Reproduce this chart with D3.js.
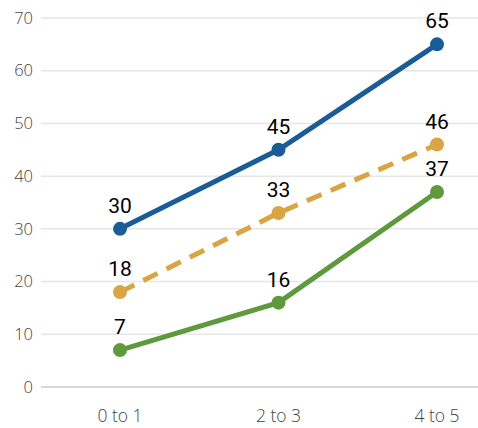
<!DOCTYPE html>
<html><head><meta charset="utf-8">
<script src="https://cdn.jsdelivr.net/npm/d3@7"></script>
<style>body{margin:0;background:#fff;} text{font-family:"Open Sans",sans-serif;}</style>
</head><body>
<svg id="c" width="478" height="428"></svg>
<script>
const categories = ["0 to 1", "2 to 3", "4 to 5"];
const blueValues = [30, 45, 65];
const orangeValues = [18, 33, 46];
const greenValues = [7, 16, 37];
const yTicks = [0, 10, 20, 30, 40, 50, 60, 70];

const series = [
  {values: blueValues, color: "#1a5c97", dash: null},
  {values: orangeValues, color: "#d9a443", dash: "16,10"},
  {values: greenValues, color: "#5e9a3b", dash: null}
];

const svg = d3.select("#c");
const x = d3.scalePoint().domain(categories).range([120, 437]);
const y = d3.scaleLinear().domain([0, 70]).range([387, 18]);

svg.append("g").selectAll("line").data(yTicks).join("line")
  .attr("x1", 41).attr("x2", 478)
  .attr("y1", d => y(d)).attr("y2", d => y(d))
  .attr("stroke", d => d === 0 ? "#c8c8c8" : "#e6e6e6").attr("stroke-width", 1.5);

svg.append("g").selectAll("text").data(yTicks).join("text")
  .attr("x", 33).attr("y", d => y(d)).attr("dy", "0.35em")
  .attr("text-anchor", "end").attr("font-size", 16.5).attr("font-weight", 300).attr("fill", "#444")
  .text(d => d);

svg.append("g").selectAll("text").data(categories).join("text")
  .attr("x", d => x(d)).attr("y", 422)
  .attr("text-anchor", "middle").attr("font-size", 17.5).attr("font-weight", 300).attr("fill", "#444")
  .text(d => d);

const line = d3.line().x((d, i) => x(categories[i])).y(d => y(d));

series.forEach(s => {
  const g = svg.append("g");
  g.append("path").datum(s.values).attr("d", line)
    .attr("fill", "none").attr("stroke", s.color).attr("stroke-width", 5)
    .attr("stroke-dasharray", s.dash);
  g.selectAll("circle").data(s.values).join("circle")
    .attr("cx", (d, i) => x(categories[i])).attr("cy", d => y(d)).attr("r", 7)
    .attr("fill", s.color);
  g.selectAll("text").data(s.values).join("text")
    .attr("x", (d, i) => x(categories[i])).attr("y", d => y(d) - 16)
    .attr("text-anchor", "middle").attr("font-size", 21).attr("font-weight", 400)
    .style("font-family", "Roboto, sans-serif")
    .attr("fill", "#000").text(d => d);
});
</script>
</body></html>
